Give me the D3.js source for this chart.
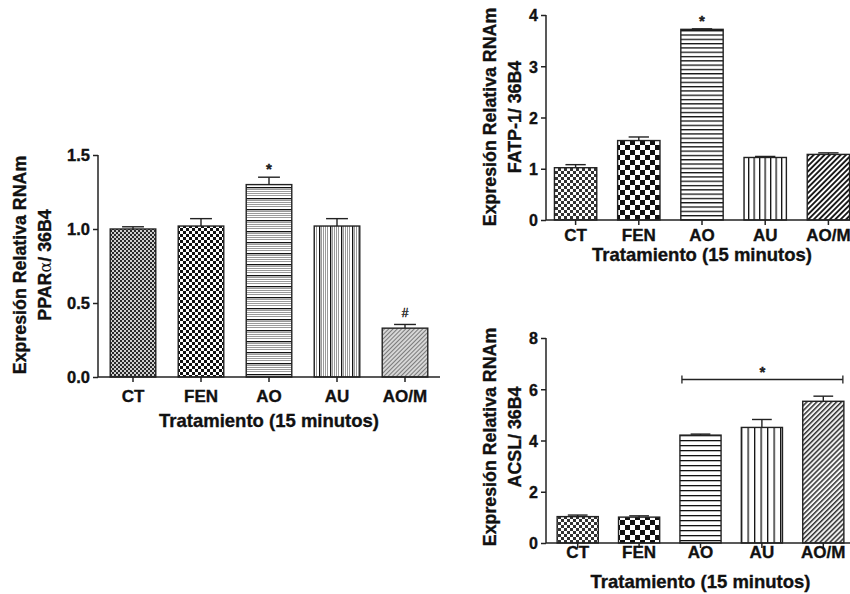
<!DOCTYPE html>
<html>
<head>
<meta charset="utf-8">
<script src="https://cdn.jsdelivr.net/npm/d3@7"></script>
<style>
  body { margin: 0; background: #fff; }
  svg { display: block; font-family: "Liberation Sans", Arial, sans-serif; font-weight: bold; }
  svg text { stroke: #111; stroke-width: 0.35px; }
</style>
</head>
<body>
<svg id="chart" width="850" height="594"></svg>
<script>
// data
const categories = ['CT', 'FEN', 'AO', 'AU', 'AO/M'];

const pparMeans = [1.00, 1.02, 1.30, 1.02, 0.33];
const pparErrors = [0.015, 0.05, 0.05, 0.05, 0.025];
const pparMarks = ['', '', '*', '', '#'];
const pparTicks = [0, 0.5, 1.0, 1.5];

const fatpMeans = [1.02, 1.55, 3.72, 1.22, 1.28];
const fatpErrors = [0.06, 0.07, 0.01, 0.02, 0.03];
const fatpMarks = ['', '', '*', '', ''];
const fatpTicks = [0, 1, 2, 3, 4];

const acslMeans = [1.03, 1.01, 4.21, 4.51, 5.53];
const acslErrors = [0.06, 0.05, 0.04, 0.31, 0.20];
const acslMarks = ['', '', '', '', ''];
const acslTicks = [0, 2, 4, 6, 8];
const acslBracket = { from: 'AO', to: 'AO/M', value: 6.38, mark: '*' };

const svg = d3.select('#chart');
const defs = svg.append('defs');

// bar fill patterns, one set per panel
function makePatterns(id, s) {
  // CT: fine checker
  let p = defs.append('pattern').attr('id', id + '-CT').attr('patternUnits', 'userSpaceOnUse')
    .attr('width', s.ct * 2).attr('height', s.ct * 2);
  p.append('rect').attr('width', s.ct * 2).attr('height', s.ct * 2).attr('fill', s.ctBg);
  p.append('rect').attr('width', s.ct).attr('height', s.ct).attr('fill', s.ctColor);
  p.append('rect').attr('x', s.ct).attr('y', s.ct).attr('width', s.ct).attr('height', s.ct).attr('fill', s.ctColor);

  // FEN: coarse checker
  p = defs.append('pattern').attr('id', id + '-FEN').attr('patternUnits', 'userSpaceOnUse')
    .attr('width', s.fen * 2).attr('height', s.fen * 2);
  p.append('rect').attr('width', s.fen * 2).attr('height', s.fen * 2).attr('fill', '#fff');
  p.append('rect').attr('width', s.fen).attr('height', s.fen).attr('fill', '#111');
  p.append('rect').attr('x', s.fen).attr('y', s.fen).attr('width', s.fen).attr('height', s.fen).attr('fill', '#111');

  // AO: horizontal lines
  p = defs.append('pattern').attr('id', id + '-AO').attr('patternUnits', 'userSpaceOnUse')
    .attr('width', 10).attr('height', s.ao);
  p.append('rect').attr('width', 10).attr('height', s.ao).attr('fill', '#fff');
  if (s.fine) {
    for (let y = 2; y < s.ao - 1; y += 2) {
      p.append('rect').attr('y', y).attr('width', 10).attr('height', 1).attr('fill', '#9a9a9a');
    }
  }
  p.append('rect').attr('width', 10).attr('height', 1.3).attr('fill', '#111');

  // AU: vertical lines
  p = defs.append('pattern').attr('id', id + '-AU').attr('patternUnits', 'userSpaceOnUse')
    .attr('width', s.au).attr('height', 10);
  p.append('rect').attr('width', s.au).attr('height', 10).attr('fill', '#fff');
  if (s.fine) {
    for (let x = 2; x < s.au - 1; x += 2) {
      p.append('rect').attr('x', x).attr('width', 1).attr('height', 10).attr('fill', '#9a9a9a');
    }
  }
  p.append('rect').attr('width', 1.3).attr('height', 10).attr('fill', '#111');

  // AO/M: diagonal hatch
  p = defs.append('pattern').attr('id', id + '-AOM').attr('patternUnits', 'userSpaceOnUse')
    .attr('width', s.aom).attr('height', s.aom).attr('patternTransform', 'rotate(45)');
  p.append('rect').attr('width', s.aom).attr('height', s.aom).attr('fill', s.aomBg);
  p.append('rect').attr('width', s.aomLine).attr('height', s.aom).attr('fill', s.aomColor);
}

const panels = [
  {
    id: 'ppar', means: pparMeans, errors: pparErrors, marks: pparMarks, ticks: pparTicks,
    domain: [0, 1.5], format: d3.format('.1f'),
    axisX: 98, band: [99, 439], xEnd: 440, yRange: [377, 155],
    tickSize: 16.5, catY: 402, titleY: 427, labelX: [26, 51], labelY: 265,
    label2: ['PPAR', 'α', '/ 36B4'],
    pat: { ct: 2, ctColor: '#2a2a2a', ctBg: '#cfcfcf', fen: 3, ao: 11, au: 11, fine: true,
           aom: 3, aomLine: 1, aomBg: '#d6d6d6', aomColor: '#7a7a7a' }
  },
  {
    id: 'fatp', means: fatpMeans, errors: fatpErrors, marks: fatpMarks, ticks: fatpTicks,
    domain: [0, 4], format: d3.format('d'),
    axisX: 546, band: [544, 860], xEnd: 850, yRange: [220, 15],
    tickSize: 16, catY: 241, titleY: 261, labelX: [496, 521], labelY: 117,
    label2: ['FATP-1/ 36B4'],
    pat: { ct: 3, ctColor: '#333', ctBg: '#fff', fen: 5, ao: 4.3, au: 5.5, fine: false,
           aom: 3.8, aomLine: 1.9, aomBg: '#fff', aomColor: '#1a1a1a' }
  },
  {
    id: 'acsl', means: acslMeans, errors: acslErrors, marks: acslMarks, ticks: acslTicks,
    domain: [0, 8], format: d3.format('d'),
    axisX: 546, band: [547, 854], xEnd: 850, yRange: [543, 338],
    tickSize: 16, catY: 558, titleY: 588, labelX: [496, 521], labelY: 437,
    label2: ['ACSL/ 36B4'], bracket: acslBracket,
    pat: { ct: 3, ctColor: '#333', ctBg: '#fff', fen: 5, ao: 5, au: 6.5, fine: false,
           aom: 3.5, aomLine: 1.5, aomBg: '#f4f4f4', aomColor: '#333' }
  }
];

const patternKey = { 'CT': 'CT', 'FEN': 'FEN', 'AO': 'AO', 'AU': 'AU', 'AO/M': 'AOM' };

panels.forEach(cfg => {
  makePatterns(cfg.id, cfg.pat);

  const x = d3.scaleBand().domain(categories).range(cfg.band).paddingInner(0.33).paddingOuter(0.165);
  const y = d3.scaleLinear().domain(cfg.domain).range(cfg.yRange);
  const rows = categories.map((c, i) => ({ cat: c, mean: cfg.means[i], err: cfg.errors[i], mark: cfg.marks[i] }));

  const g = svg.append('g').attr('id', cfg.id);

  // error bars (upper whisker only)
  const capW = x.bandwidth() * 0.48;
  g.selectAll('.whisker').data(rows).enter().append('line')
    .attr('x1', d => x(d.cat) + x.bandwidth() / 2).attr('x2', d => x(d.cat) + x.bandwidth() / 2)
    .attr('y1', d => y(d.mean)).attr('y2', d => y(d.mean + d.err))
    .attr('stroke', '#222').attr('stroke-width', 1.4);
  g.selectAll('.cap').data(rows).enter().append('line')
    .attr('x1', d => x(d.cat) + x.bandwidth() / 2 - capW / 2)
    .attr('x2', d => x(d.cat) + x.bandwidth() / 2 + capW / 2)
    .attr('y1', d => y(d.mean + d.err)).attr('y2', d => y(d.mean + d.err))
    .attr('stroke', '#222').attr('stroke-width', 1.4);

  g.selectAll('.bar').data(rows).enter().append('rect')
    .attr('x', d => x(d.cat)).attr('y', d => y(d.mean))
    .attr('width', x.bandwidth()).attr('height', d => y(0) - y(d.mean))
    .attr('fill', d => `url(#${cfg.id}-${patternKey[d.cat]})`)
    .attr('stroke', '#222').attr('stroke-width', 1.4);

  // significance marks
  g.selectAll('.mark').data(rows.filter(d => d.mark)).enter().append('text')
    .attr('x', d => x(d.cat) + x.bandwidth() / 2)
    .attr('y', d => y(d.mean + d.err) - (d.mark === '#' ? 7 : 3))
    .attr('text-anchor', 'middle').attr('font-size', d => d.mark === '#' ? 12 : 15)
    .attr('font-weight', d => d.mark === '#' ? 'normal' : 'bold')
    .attr('fill', '#222').text(d => d.mark);

  if (cfg.bracket) {
    const b = cfg.bracket;
    const x1 = x(b.from) + 2, x2 = x(b.to) + x.bandwidth() - 1, yb = y(b.value);
    const bg = g.append('g').attr('stroke', '#222').attr('stroke-width', 1.3);
    bg.append('line').attr('x1', x1).attr('x2', x2).attr('y1', yb).attr('y2', yb);
    bg.append('line').attr('x1', x1).attr('x2', x1).attr('y1', yb - 4).attr('y2', yb + 4);
    bg.append('line').attr('x1', x2).attr('x2', x2).attr('y1', yb - 4).attr('y2', yb + 4);
    g.append('text').attr('x', (x1 + x2) / 2).attr('y', yb - 3).attr('text-anchor', 'middle')
      .attr('font-size', 15).attr('fill', '#222').text(b.mark);
  }

  // y axis
  const yAxis = g.append('g').attr('transform', `translate(${cfg.axisX},0)`)
    .call(d3.axisLeft(y).tickValues(cfg.ticks).tickFormat(cfg.format).tickSize(5).tickPadding(3));
  yAxis.select('.domain').attr('d', `M0,${y(0)}V${y(cfg.domain[1])}`);

  // x axis
  const xAxis = g.append('g').attr('transform', `translate(0,${y(0)})`)
    .call(d3.axisBottom(x).tickSize(5).tickFormat(''));
  xAxis.select('.domain').attr('d', `M${cfg.axisX},0H${cfg.xEnd}`);

  [yAxis, xAxis].forEach(a => {
    a.attr('font-family', null).attr('font-size', cfg.tickSize);
    a.selectAll('path, line').attr('stroke', '#222').attr('stroke-width', 1.5);
    a.selectAll('text').attr('fill', '#111');
  });
  yAxis.selectAll('text').attr('dy', '0.36em');

  // category labels
  g.selectAll('.cat').data(categories).enter().append('text')
    .attr('x', d => x(d) + x.bandwidth() / 2).attr('y', cfg.catY)
    .attr('text-anchor', 'middle').attr('font-size', 17).attr('fill', '#111').text(d => d);

  g.append('text')
    .attr('x', x.range()[0] + (x.range()[1] - x.range()[0]) / 2)
    .attr('y', cfg.titleY).attr('text-anchor', 'middle').attr('font-size', 18.5).attr('fill', '#111')
    .text('Tratamiento (15 minutos)');

  // y label, two lines
  g.append('text').attr('transform', `translate(${cfg.labelX[0]},${cfg.labelY}) rotate(-90)`)
    .attr('text-anchor', 'middle').attr('font-size', 17.8).attr('fill', '#111')
    .text('Expresión Relativa RNAm');
  const l2 = g.append('text').attr('transform', `translate(${cfg.labelX[1]},${cfg.labelY}) rotate(-90)`)
    .attr('text-anchor', 'middle').attr('font-size', 17.8).attr('fill', '#111');
  cfg.label2.forEach(part => {
    const t = l2.append('tspan').text(part);
    if (part === 'α') t.attr('font-weight', 'normal').attr('font-family', '"DejaVu Serif", serif')
      .attr('font-size', 16).style('stroke-width', '0px');
  });
});
</script>
</body>
</html>
